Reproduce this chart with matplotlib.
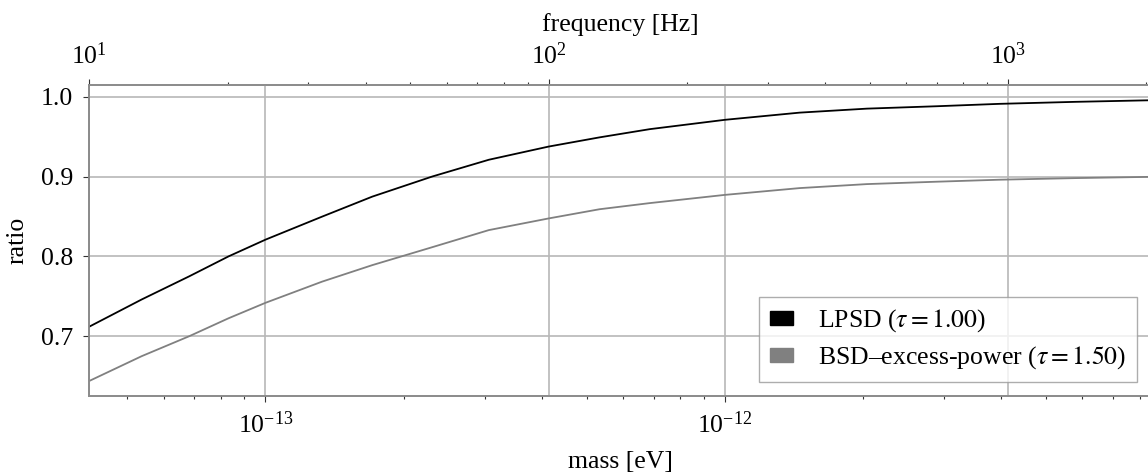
import matplotlib.pyplot as plt
from matplotlib.patches import Patch

plt.rcParams['font.family'] = ['Liberation Serif', 'DejaVu Serif']
plt.rcParams['mathtext.fontset'] = 'stix'
plt.rcParams['font.size'] = 18.5

H_EV = 4.135667696e-15  # постоянная Планка, эВ*с

# значения
freq = [10, 13, 16.5, 20.1, 24.2, 32.1, 41.3, 55.8, 74.1, 100, 129, 166, 242,
        352, 493, 700, 959, 1400, 2048]
ratio_lpsd = [0.712, 0.746, 0.775, 0.800, 0.821, 0.8497, 0.8748, 0.900, 0.921,
              0.9375, 0.949, 0.9593, 0.971, 0.980, 0.985, 0.988, 0.991, 0.9935, 0.9955]
ratio_bsd = [0.644, 0.675, 0.700, 0.7225, 0.7419, 0.7683, 0.789, 0.8115, 0.8329,
             0.8475, 0.859, 0.8667, 0.877, 0.8855, 0.8905, 0.8935, 0.896, 0.898, 0.8996]
labels = [r'LPSD ($\tau = 1.00$)', r'BSD–excess-power ($\tau = 1.50$)']
colors = ['black', 'grey']

mass = [f * H_EV for f in freq]
spine_c = '#8c8c8c'
grid_c = '#b8b8b8'

fig = plt.figure(figsize=(11.48, 4.73), dpi=100)
ax = fig.add_axes([0.0778, 0.1634, 0.9248, 0.6569])
ax2 = ax.twiny()

ax.set_xscale('log')
ax.set_xlim(freq[0] * H_EV, freq[-1] * H_EV)
ax.set_ylim(0.6255, 1.0146)
ax2.set_xscale('log')
ax2.set_xlim(freq[0], freq[-1])

ax.set_zorder(ax2.get_zorder() + 1)
ax.patch.set_visible(False)

ax.grid(True, which='major', color=grid_c, lw=1.2)
ax2.grid(True, which='major', axis='x', color=grid_c, lw=1.2)

ax.plot(mass, ratio_lpsd, color=colors[0], lw=1.3)
ax.plot(mass, ratio_bsd, color=colors[1], lw=1.3)

for a in (ax, ax2):
    for s in a.spines.values():
        s.set_color(spine_c)
        s.set_linewidth(1.3)
    a.tick_params(which='major', length=4.5, width=0.8, color='#333333', pad=7)
    a.tick_params(which='minor', length=2.5, width=0.8, color='#333333')
ax.tick_params(top=False, right=False)

ax.set_xlabel('mass [eV]', labelpad=9)
ax.set_ylabel('ratio', labelpad=9)
ax2.set_xlabel('frequency [Hz]', labelpad=8)

handles = [Patch(facecolor=c, edgecolor=c, label=l) for c, l in zip(colors, labels)]
ax.legend(handles=handles, loc='lower right', fancybox=False, edgecolor='#999999',
          fontsize=18.5, handlelength=0.9, handleheight=0.45, handletextpad=1.0,
          borderpad=0.4, labelspacing=0.4, borderaxespad=0.55)

fig.savefig('out.png', dpi=100)
